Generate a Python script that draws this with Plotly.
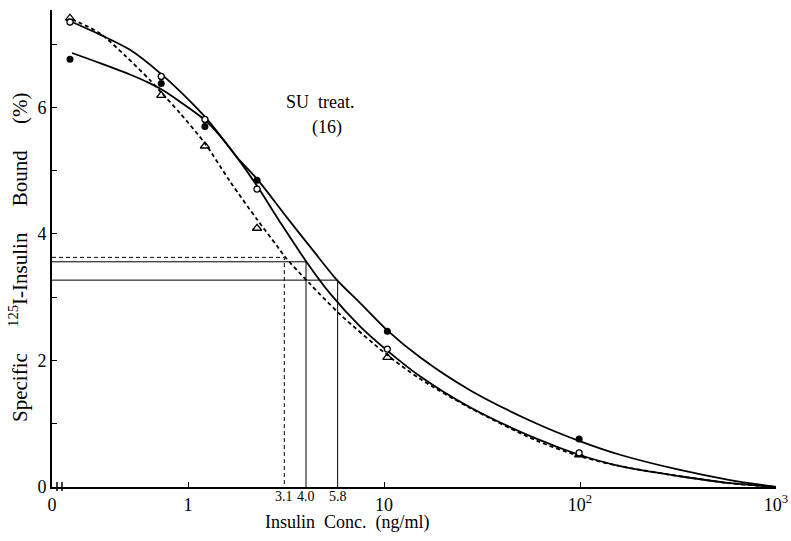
import plotly.graph_objects as go
import math

# ---- data ----
conc = [0.25, 0.73, 1.22, 2.25, 10.4, 99]          # ng/ml (first point = zero-dose position)
bound_filled = [6.76, 6.38, 5.70, 4.85, 2.46, 0.76]  # ● series
bound_open = [7.35, 6.49, 5.81, 4.71, 2.18, 0.54]    # ○ series
bound_tri = [7.41, 6.19, 5.39, 4.09, 2.05, 0.51]     # △ series

# fitted curves
curve_filled_x = [0.256, 0.356, 0.506, 0.640, 0.728, 0.910, 1.221, 1.457, 1.778, 2.249, 3.125,
                  4.343, 5.76, 7.545, 10.36, 15.27, 27.47, 60.34, 98.8, 160, 323.6, 582.6, 1000]
curve_filled_y = [6.86, 6.70, 6.52, 6.38, 6.29, 6.09, 5.80, 5.55, 5.21, 4.87, 4.30,
                  3.74, 3.27, 2.91, 2.48, 2.05, 1.53, 1.00, 0.73, 0.51, 0.27, 0.11, 0]

curve_open_x = [0.256, 0.356, 0.506, 0.728, 1.024, 1.221, 1.457, 1.778, 2.249, 3.017, 4.0,
                5.30, 7.545, 10.36, 15.27, 27.47, 60.34, 98.8, 160, 323.6, 582.6, 1000]
curve_open_y = [7.35, 7.15, 6.91, 6.53, 6.10, 5.85, 5.56, 5.21, 4.76, 4.14, 3.57,
                3.06, 2.54, 2.16, 1.75, 1.26, 0.76, 0.51, 0.33, 0.17, 0.06, 0]

curve_tri_x = [0.256, 0.356, 0.477, 0.640, 0.728, 0.910, 1.221, 1.638, 2.249, 2.845, 3.1,
               4.193, 5.965, 10.36, 15.27, 27.47, 60.34, 98.8, 160, 323.6, 582.6, 1000]
curve_tri_y = [7.39, 7.17, 6.82, 6.43, 6.24, 5.91, 5.43, 4.83, 4.23, 3.81, 3.65,
               3.21, 2.73, 2.09, 1.71, 1.25, 0.73, 0.49, 0.33, 0.17, 0.06, 0]

# 50% displacement guides
half_levels = [3.63, 3.56, 3.27]
ic50 = [3.1, 4.0, 5.8]
guide_dashed = [True, False, False]

x_tick_vals_log = [-0.6939, 0, 1, 2, 3]
x_tick_text = ["0", "1", "10", "10<sup>2</sup>", "10<sup>3</sup>"]
y_ticks = [0, 1, 2, 3, 4, 5, 6, 7]
y_tick_text = ["0", "", "2", "", "4", "", "6", ""]

FONT = "Liberation Serif, Times New Roman, serif"
x_left = 10 ** x_tick_vals_log[0]

# plot-area geometry (pixels)
L, R, T, B = 52, 15, 10, 54
W, H = 791, 541
PW, PH = W - L - R, H - T - B


def px(xp):
    return (xp - L) / PW


def py(yp):
    return (H - B - yp) / PH


fig = go.Figure()
dash_style = "4px,3px"
SMOOTH = 0.8

# guide lines
for h, c, d in zip(half_levels, ic50, guide_dashed):
    fig.add_trace(go.Scatter(
        x=[x_left, c, c], y=[h, h, 0], mode="lines",
        line=dict(color="black", width=1, dash=(dash_style if d else "solid")),
        hoverinfo="skip", showlegend=False))

# curves
fig.add_trace(go.Scatter(x=curve_filled_x, y=curve_filled_y, mode="lines",
                         line=dict(color="black", width=1.8, shape="spline", smoothing=SMOOTH),
                         showlegend=False))
fig.add_trace(go.Scatter(x=curve_open_x, y=curve_open_y, mode="lines",
                         line=dict(color="black", width=1.8, shape="spline", smoothing=SMOOTH),
                         showlegend=False))
fig.add_trace(go.Scatter(x=curve_tri_x, y=curve_tri_y, mode="lines",
                         line=dict(color="black", width=1.8, shape="spline", smoothing=SMOOTH,
                                   dash=dash_style),
                         showlegend=False))

# markers
fig.add_trace(go.Scatter(x=conc, y=bound_tri, mode="markers",
                         marker=dict(symbol="triangle-up-open", size=8, color="black",
                                     line=dict(width=1.3)), showlegend=False))
fig.add_trace(go.Scatter(x=conc, y=bound_open, mode="markers",
                         marker=dict(symbol="circle", size=6, color="white",
                                     line=dict(color="black", width=1.3)), showlegend=False))
fig.add_trace(go.Scatter(x=conc, y=bound_filled, mode="markers",
                         marker=dict(symbol="circle", size=7, color="black"), showlegend=False))

# x tick labels for IC50 values
for c in ic50:
    fig.add_annotation(x=math.log10(c), y=0, xref="x", yref="y", text=f"{c:.1f}",
                       showarrow=False, xanchor="center", yanchor="top", yshift=0,
                       font=dict(family=FONT, size=14, color="black"))


def note(text, xp, yp, size, angle=0):
    fig.add_annotation(x=px(xp), y=py(yp), xref="paper", yref="paper", text=text,
                       showarrow=False, xanchor="center", yanchor="middle", textangle=angle,
                       font=dict(family=FONT, size=size, color="black"))


note("SU  treat.", 320, 102, 18)
note("(16)", 327, 128, 18)
note("Insulin  Conc.  (ng/ml)", 347, 522, 18)
note("Specific     <sup>125</sup>I-Insulin     Bound     (%)", 18, 258, 21, -90)

# axis break marks
for xb in (57, 62):
    fig.add_shape(type="line", xref="paper", yref="paper",
                  x0=px(xb), x1=px(xb), y0=-4 / PH, y1=5 / PH,
                  line=dict(color="black", width=1.5))

fig.update_layout(
    width=W, height=H,
    margin=dict(l=L, r=R, t=T, b=B, autoexpand=False),
    paper_bgcolor="white", plot_bgcolor="white",
    font=dict(family=FONT, size=17, color="black"),
    xaxis=dict(type="log", range=[x_tick_vals_log[0], 3.0], automargin=False,
               tickvals=[10 ** v for v in x_tick_vals_log], ticktext=x_tick_text,
               ticks="inside", ticklen=5, tickcolor="black", showgrid=False, zeroline=False,
               showline=True, linecolor="black", linewidth=1.8,
               tickfont=dict(family=FONT, size=18)),
    yaxis=dict(range=[0, 7.54], automargin=False, tickvals=y_ticks, ticktext=y_tick_text,
               ticks="inside", ticklen=5, tickcolor="black", showgrid=False, zeroline=False,
               showline=True, linecolor="black", linewidth=1.8,
               tickfont=dict(family=FONT, size=18)),
)

fig.write_html("out.html", config={"displayModeBar": False},
               post_script="document.body.style.margin='0px';document.body.style.overflow='hidden';")
